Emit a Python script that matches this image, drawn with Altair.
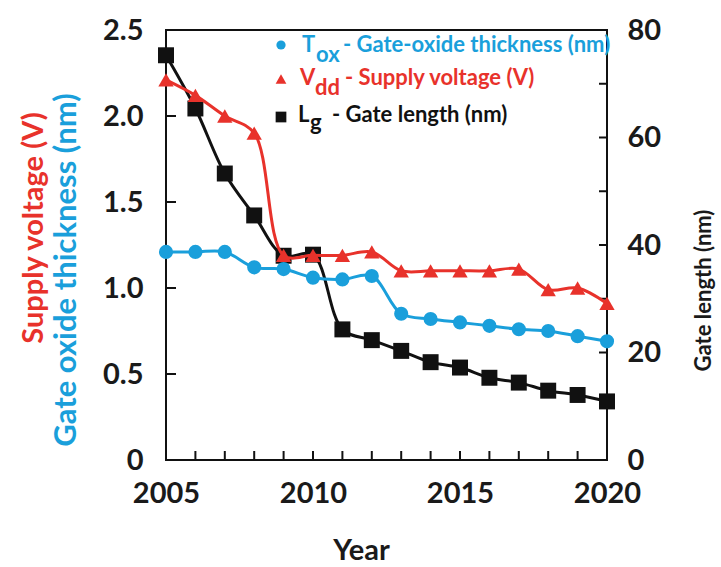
import altair as alt
import pandas as pd

# ---- data -------------------------------------------------------------
years = list(range(2005, 2021))
tox_nm = [1.21, 1.21, 1.21, 1.12, 1.11, 1.06, 1.05, 1.07,
          0.85, 0.82, 0.80, 0.78, 0.76, 0.75, 0.72, 0.69]
vdd_v = [2.21, 2.12, 2.00, 1.90, 1.19, 1.19, 1.19, 1.21,
         1.10, 1.10, 1.10, 1.10, 1.11, 0.99, 1.00, 0.91]
lg_nm = [75.3, 65.4, 53.3, 45.5, 38.0, 38.2, 24.3, 22.3,
         20.3, 18.2, 17.2, 15.3, 14.4, 12.9, 12.1, 10.9]

year_labels = [2005, 2010, 2015, 2020]
left_ticks = [0, 0.5, 1.0, 1.5, 2.0, 2.5]
right_ticks = [0, 10, 20, 30, 40, 50, 60, 70, 80]
right_labels = [0, 20, 40, 60, 80]

legend_main = ["T", "V", "L"]
legend_sub = ["ox", "dd", "g"]
legend_rest = ["- Gate-oxide thickness (nm)", "- Supply voltage (V)", "- Gate length (nm)"]

# ---- styling ----------------------------------------------------------
BLUE = "#1A9FDB"
RED = "#E8322B"
BLACK = "#111111"
INK = "#1a1a1a"
FONT = "Lato"
W, H = 441, 430

df = pd.DataFrame({"Year": years, "Tox": tox_nm, "Vdd": vdd_v, "Lg": lg_nm})

xscale = alt.Scale(domain=[2005, 2020], nice=False, zero=False)
yl = alt.Scale(domain=[0, 2.5], nice=False)
yr = alt.Scale(domain=[0, 80], nice=False)

label_style = dict(labelFont=FONT, labelFontSize=29, labelFontWeight="bold",
                   labelColor=INK, labelFlush=False, ticks=False,
                   domain=False, grid=False)

x_axis = alt.Axis(values=year_labels, format="d", title="Year",
                  labelPadding=19, titleFont=FONT, titleFontSize=29,
                  titleFontWeight="bold", titleColor=INK, titleX=195,
                  titleY=99, titleBaseline="alphabetic", titleAlign="center",
                  **label_style)
left_axis = alt.Axis(values=left_ticks, orient="left", title=None,
                     labelExpr="datum.value == 0 ? '0' : format(datum.value, '.1f')",
                     labelPadding=23, **label_style)
right_axis = alt.Axis(values=right_labels, orient="right",
                      title="Gate length (nm)", labelPadding=20,
                      titleFont=FONT, titleFontSize=22, titleFontWeight="bold",
                      titleColor=INK, titleAngle=270, titleX=96, titleY=260,
                      titleBaseline="middle", titleAlign="center", **label_style)

x_enc = alt.X("Year:Q", scale=xscale, axis=x_axis)
base = alt.Chart(df)


def series(field, color, shape, size, scale, axis):
    y_enc = alt.Y(f"{field}:Q", scale=scale, axis=axis)
    line = base.mark_line(color=color, strokeWidth=3, interpolate="catmull-rom").encode(x=x_enc, y=y_enc)
    pts = base.mark_point(shape=shape, filled=True, opacity=1, size=size,
                          color=color).encode(x=x_enc, y=y_enc)
    return line, pts


tox_line, tox_pts = series("Tox", BLUE, "circle", 200, yl, left_axis)
vdd_line, vdd_pts = series("Vdd", RED, "triangle-up", 235, yl, left_axis)
lg_line, lg_pts = series("Lg", BLACK, "square", 255, yr, right_axis)

# inward tick marks on all three axes
left_tick_marks = alt.Chart(pd.DataFrame({"v": left_ticks})).mark_rule(
    color=BLACK, strokeWidth=2).encode(
    x=alt.value(0), x2=alt.value(10), y=alt.Y("v:Q", scale=yl, axis=left_axis))
bottom_tick_marks = alt.Chart(pd.DataFrame({"Year": years})).mark_rule(
    color=BLACK, strokeWidth=2).encode(
    x=x_enc, y=alt.value(H), y2=alt.value(H - 9))
right_tick_marks = alt.Chart(pd.DataFrame({"v": right_ticks})).mark_rule(
    color=BLACK, strokeWidth=2).encode(
    x=alt.value(W - 8), x2=alt.value(W), y=alt.Y("v:Q", scale=yr, axis=right_axis))


def text(t, x, y, color, size=22, angle=0, align="left", baseline="alphabetic"):
    return alt.Chart(pd.DataFrame({"t": [t]})).mark_text(
        font=FONT, fontSize=size, fontWeight="bold", color=color, angle=angle,
        align=align, baseline=baseline).encode(
        x=alt.value(x), y=alt.value(y), text="t:N")


# two-coloured left axis title
left_titles = [
    text("Supply voltage (V)", -132, 198, RED, size=29, angle=270,
         align="center", baseline="middle"),
    text("Gate oxide thickness (nm)", -99, 240, BLUE, size=31, angle=270,
         align="center", baseline="middle"),
]

# legend with subscripted symbols
legend_colors = [BLUE, RED, BLACK]
legend_shapes = ["circle", "triangle-up", "square"]
legend_sizes = [85, 115, 115]
marker_y = [15, 49, 87]
main_x = [136, 134, 132]
base_y = [22, 55, 92]
sub_x = [150, 149, 144]
sub_y = [32, 65, 100]
rest_x = [177, 179, 166]

legend_layers = []
for i in range(3):
    legend_layers.append(
        alt.Chart(pd.DataFrame({"k": [i]})).mark_point(
            shape=legend_shapes[i], filled=True, opacity=1,
            size=legend_sizes[i], color=legend_colors[i]).encode(
            x=alt.value(115), y=alt.value(marker_y[i])))
    legend_layers.append(text(legend_main[i], main_x[i], base_y[i], legend_colors[i], size=22))
    legend_layers.append(text(legend_sub[i], sub_x[i], sub_y[i], legend_colors[i], size=22))
    legend_layers.append(text(legend_rest[i], rest_x[i], base_y[i], legend_colors[i], size=22))

right_group = alt.layer(lg_line, right_tick_marks, lg_pts)
left_group = alt.layer(vdd_line, tox_line, left_tick_marks, bottom_tick_marks,
                       tox_pts, vdd_pts, *left_titles, *legend_layers)

chart = alt.layer(right_group, left_group).resolve_scale(y="independent").properties(
    width=W, height=H,
    padding={"left": 166, "top": 30, "right": 114, "bottom": 107},
    autosize=alt.AutoSizeParams(type="none"),
    background="white",
).configure_view(stroke=BLACK, strokeWidth=2)

chart.save("out.html", embed_options={"renderer": "svg", "actions": False})
